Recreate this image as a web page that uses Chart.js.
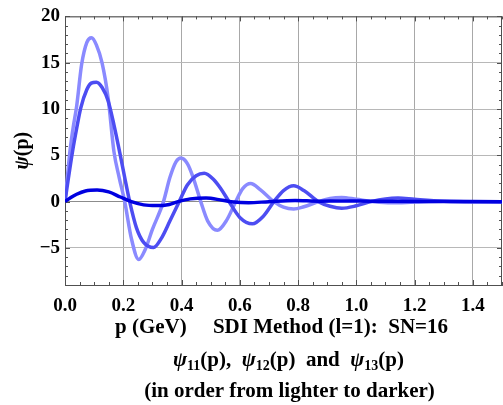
<!DOCTYPE html>
<html>
<head>
<meta charset="utf-8">
<script src="https://cdn.jsdelivr.net/npm/chart.js@4.4.1/dist/chart.umd.min.js"></script>
<style>
  html, body { margin: 0; padding: 0; background: #fff; }
</style>
</head>
<body>
<canvas id="c" width="503" height="405"></canvas>
<script>
// psi_11, psi_12, psi_13 in momentum space (SDI method, l=1, SN=16)
var psi11P = [0, 0.008, 0.017, 0.028, 0.04, 0.057, 0.075, 0.091, 0.108, 0.127, 0.148, 0.168, 0.186, 0.205,
  0.228, 0.253, 0.275, 0.3, 0.338, 0.36, 0.381, 0.398, 0.42, 0.44, 0.466, 0.49, 0.523, 0.555, 0.586,
  0.61, 0.637, 0.67, 0.717, 0.75, 0.785, 0.82, 0.87, 0.91, 0.95, 1.0, 1.06, 1.12, 1.2, 1.3, 1.4, 1.5];
var psi11 = [0, 2.6, 5.45, 8.0, 10.3, 14.8, 17.2, 17.7, 16.9, 15.0, 11.2, 5.4, 2.6, 0,
  -4.0, -6.25, -5.2, -3.0, 0, 2.6, 4.3, 4.7, 4.1, 2.6, 0, -2.1, -3.1, -2.0, 0,
  1.4, 1.95, 1.3, 0, -0.6, -0.8, -0.55, 0, 0.35, 0.45, 0.25, 0, -0.12, -0.05, 0.03, 0, 0];

var psi12P = [0, 0.012, 0.026, 0.04, 0.054, 0.075, 0.09, 0.108, 0.128, 0.148, 0.168, 0.188, 0.205, 0.222,
  0.245, 0.27, 0.304, 0.33, 0.36, 0.392, 0.42, 0.45, 0.478, 0.51, 0.535, 0.563, 0.6, 0.643, 0.68,
  0.717, 0.75, 0.785, 0.82, 0.87, 0.91, 0.95, 1.0, 1.05, 1.1, 1.143, 1.2, 1.3, 1.4, 1.5];
var psi12 = [0, 2.6, 5.45, 7.9, 10.1, 12.1, 12.8, 12.9, 12.3, 10.9, 8.3, 5.3, 2.6, 0,
  -2.8, -4.4, -4.95, -4.0, -2.1, 0, 1.8, 2.8, 3.07, 2.4, 1.4, 0, -1.7, -2.4, -1.6,
  0, 1.2, 1.71, 1.2, 0, -0.5, -0.72, -0.45, 0, 0.3, 0.39, 0.25, 0.05, 0, 0];

var psi13P = [0, 0.02, 0.04, 0.07, 0.11, 0.15, 0.19, 0.228, 0.27, 0.313, 0.358, 0.388, 0.43, 0.484,
  0.54, 0.58, 0.63, 0.7, 0.79, 0.87, 0.95, 1.05, 1.2, 1.5];
var psi13 = [0, 0.45, 0.8, 1.15, 1.25, 1.05, 0.5, 0, -0.35, -0.43, -0.3, 0, 0.3, 0.4,
  0.15, -0.05, -0.12, 0, 0.12, 0.05, 0.08, 0.05, 0.02, 0];

var xTicks = [0, 0.2, 0.4, 0.6, 0.8, 1.0, 1.2, 1.4];
var yTicks = [-5, 0, 5, 10, 15, 20];

function pts(ps, vs) {
  return ps.map(function (p, i) { return { x: p, y: vs[i] }; });
}

var SERIF = '"Liberation Serif", "Times New Roman", serif';

// draw a row of text runs (mixed fonts / subscripts) centred on cx
function drawRuns(ctx, runs, cx, y) {
  var total = 0;
  runs.forEach(function (r) { ctx.font = r.font; total += ctx.measureText(r.t).width; });
  var x = cx - total / 2;
  ctx.textBaseline = 'alphabetic';
  ctx.textAlign = 'left';
  runs.forEach(function (r) {
    ctx.font = r.font;
    ctx.fillText(r.t, x, y + (r.dy || 0));
    x += ctx.measureText(r.t).width;
  });
}

var frame = {
  id: 'frame',
  beforeDatasetsDraw: function (chart) {
    var ctx = chart.ctx, a = chart.chartArea;
    var xs = chart.scales.x, ys = chart.scales.y;
    ctx.save();
    ctx.strokeStyle = '#505050';
    ctx.lineWidth = 1;
    ctx.beginPath();
    ctx.moveTo(a.left, a.top + 0.5); ctx.lineTo(a.right, a.top + 0.5);
    ctx.moveTo(a.right - 0.5, a.top); ctx.lineTo(a.right - 0.5, a.bottom);
    // inward ticks: minor every 0.05 / 1, major at labelled values
    var i, v, px, len;
    for (i = 0; i <= 30; i++) {
      v = i * 0.05;
      px = Math.round(xs.getPixelForValue(v)) + 0.5;
      len = (i % 4 === 0) ? 5 : 3;
      ctx.moveTo(px, a.bottom); ctx.lineTo(px, a.bottom - len);
      ctx.moveTo(px, a.top); ctx.lineTo(px, a.top + len);
    }
    for (v = -9; v <= 20; v++) {
      px = Math.round(ys.getPixelForValue(v)) + 0.5;
      len = (v % 5 === 0) ? 5 : 3;
      ctx.moveTo(a.left, px); ctx.lineTo(a.left + len, px);
      ctx.moveTo(a.right, px); ctx.lineTo(a.right - len, px);
    }
    ctx.stroke();
    ctx.restore();
  },
  afterDraw: function (chart) {
    var ctx = chart.ctx, a = chart.chartArea;
    var b = 'bold 21px ' + SERIF, bi = 'italic bold 21px ' + SERIF, sub = 'bold 14px ' + SERIF;
    ctx.save();
    ctx.fillStyle = '#000';
    var cx = (a.left + a.right) / 2;
    drawRuns(ctx, [{ t: 'p (GeV)     SDI Method (l=1):  SN=16', font: b }], cx - 2, 333);
    drawRuns(ctx, [
      { t: 'ψ', font: bi }, { t: '11', font: sub, dy: 4 }, { t: '(p),  ', font: b },
      { t: 'ψ', font: bi }, { t: '12', font: sub, dy: 4 }, { t: '(p)  and  ', font: b },
      { t: 'ψ', font: bi }, { t: '13', font: sub, dy: 4 }, { t: '(p)', font: b }
    ], cx + 5, 366);
    drawRuns(ctx, [{ t: '(in order from lighter to darker)', font: b }], cx + 6, 397);
    // y axis title
    ctx.translate(21, (a.top + a.bottom) / 2);
    ctx.rotate(-Math.PI / 2);
    drawRuns(ctx, [{ t: 'ψ', font: 'italic bold 20px ' + SERIF }, { t: '(p)', font: 'bold 20px ' + SERIF }], 0, 7);
    ctx.restore();
  }
};

var tickFont = { family: SERIF, size: 19, weight: 'bold' };

new Chart(document.getElementById('c'), {
  type: 'line',
  data: {
    datasets: [
      { label: 'psi11', data: pts(psi11P, psi11), borderColor: '#8a8aff', order: 3 },
      { label: 'psi12', data: pts(psi12P, psi12), borderColor: '#4d4df2', order: 2 },
      { label: 'psi13', data: pts(psi13P, psi13), borderColor: '#0000e0', order: 1 }
    ]
  },
  options: {
    responsive: false,
    animation: false,
    devicePixelRatio: 1,
    layout: { padding: { top: 14, right: 1, left: 0, bottom: 0 } },
    elements: {
      line: { borderWidth: 3.5, cubicInterpolationMode: 'monotone', fill: false },
      point: { radius: 0, hoverRadius: 0 }
    },
    plugins: { legend: { display: false }, tooltip: { enabled: false } },
    scales: {
      x: {
        type: 'linear', min: 0, max: 1.5,
        afterBuildTicks: function (s) { s.ticks = xTicks.map(function (v) { return { value: v }; }); },
        afterFit: function (s) { s.height = 120; },
        grid: { color: '#a8a8a8', drawTicks: false },
        border: { display: true, color: '#505050' },
        ticks: {
          padding: 10, color: '#000', font: tickFont, maxRotation: 0, autoSkip: false,
          callback: function (v) { return v.toFixed(1); }
        }
      },
      y: {
        type: 'linear', min: -9, max: 20,
        afterBuildTicks: function (s) { s.ticks = yTicks.map(function (v) { return { value: v }; }); },
        afterFit: function (s) { s.width = 65; },
        grid: {
          drawTicks: false,
          color: function (c) { return c.tick && c.tick.value === 0 ? '#8c8c8c' : '#b8b8b8'; }
        },
        border: { display: true, color: '#505050' },
        ticks: {
          padding: 5, color: '#000', font: tickFont, autoSkip: false,
          callback: function (v) { return v < 0 ? '\u2212' + Math.abs(v) : String(v); }
        }
      }
    }
  },
  plugins: [frame]
});
</script>
</body>
</html>
